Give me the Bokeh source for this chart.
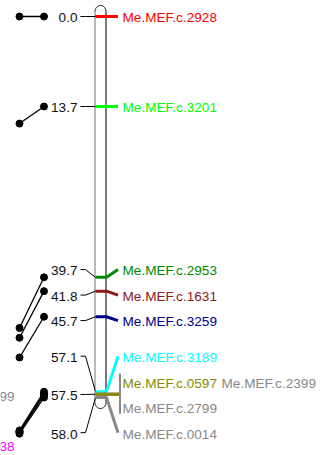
import numpy as np
from bokeh.plotting import figure
from bokeh.models import Range1d
from bokeh.core.properties import value
from bokeh.embed import file_html
from bokeh.resources import INLINE

# ---------------- data ----------------
marker_names = ["Me.MEF.c.2928", "Me.MEF.c.3201", "Me.MEF.c.2953", "Me.MEF.c.1631",
                "Me.MEF.c.3259", "Me.MEF.c.3189", "Me.MEF.c.0597", "Me.MEF.c.2399",
                "Me.MEF.c.2799", "Me.MEF.c.0014"]
marker_pos = [0.0, 13.7, 39.7, 41.8, 45.7, 57.1, 57.5, 57.5, 57.5, 58.0]
marker_colors = ["#FF0000", "#00FF00", "#008B00", "#8B1A1A", "#00008B",
                 "#00FFFF", "#8B8B00", "#888888", "#888888", "#888888"]
# positions of the same markers on the neighbouring (cut-off) map on the left
other_pos = [0.0, 16.3, 47.4, 48.9, 51.9, 63.0, 63.2, 63.2, 63.3, 63.5]
other_label_text = ["99", "38"]
other_label_pos = [57.7, 65.2]
other_label_colors = ["#888888", "#FF00FF"]

# ---------------- layout ----------------
W, H = 320, 455
PX_PER_CM = 6.57
TOP_PX = 16.0
FONT = value("Liberation Sans")
FS = "13.6px"
SPACING = 25.5 / PX_PER_CM
MAX_PER_ROW = 2
BAR_L, BAR_R = 94.5, 105.5
BAR_PAD = 0.76
CAP_RY = 6.0 / PX_PER_CM
COL_W = 99
TXT_DY = 1.4 / PX_PER_CM

y_top = -TOP_PX / PX_PER_CM
y_bot = (H - TOP_PX) / PX_PER_CM

p = figure(width=W, height=H, x_range=Range1d(0, W), y_range=Range1d(y_bot, y_top),
           output_backend="svg", toolbar_location=None, min_border=0,
           x_axis_location=None, y_axis_location=None)
p.grid.visible = False
p.outline_line_color = None
p.background_fill_color = "white"
p.styles = {"position": "absolute", "left": "0px", "top": "0px"}

# ---- rows of labels on the right ----
rows = []
i, n = 0, len(marker_pos)
while i < n:
    j = i
    while j < n and marker_pos[j] == marker_pos[i]:
        j += 1
    idx = list(range(i, j))
    for k in range(0, len(idx), MAX_PER_ROW):
        rows.append(idx[k:k + MAX_PER_ROW])
    i = j
row_pos = [marker_pos[r[0]] for r in rows]


def spread(pos, s):
    clusters = [[q] for q in range(len(pos))]

    def start(c):
        return sum(pos[q] for q in c) / len(c) - s * (len(c) - 1) / 2

    merged = True
    while merged:
        merged = False
        for a in range(len(clusters) - 1):
            end_a = start(clusters[a]) + s * (len(clusters[a]) - 1)
            if start(clusters[a + 1]) - end_a < s:
                clusters[a] = clusters[a] + clusters[a + 1]
                del clusters[a + 1]
                merged = True
                break
    lab = [0.0] * len(pos)
    for c in clusters:
        st = start(c)
        for k, q in enumerate(c):
            lab[q] = st + s * k
    return lab, clusters


row_lab, clusters = spread(row_pos, SPACING)

# left labels: one per distinct position, spread over the cluster's span
left_pos, left_lab = [], []
for c in clusters:
    distinct = sorted(set(row_pos[q] for q in c))
    first, last = row_lab[c[0]], row_lab[c[-1]]
    m = len(distinct)
    for k, d in enumerate(distinct):
        left_pos.append(d)
        if m == 1:
            left_lab.append((first + last) / 2 if len(c) > 1 else row_lab[c[0]])
        else:
            left_lab.append(first + (last - first) * k / (m - 1))

# ---- chromosome bar ----
cx = (BAR_L + BAR_R) / 2
rx = (BAR_R - BAR_L) / 2
top = min(marker_pos) - BAR_PAD
bot = max(marker_pos) + BAR_PAD
t = np.linspace(np.pi, 0, 40)
top_x = cx + rx * np.cos(t)
top_y = top - CAP_RY * np.sin(t)
t2 = np.linspace(0, np.pi, 40)
bot_x = cx + rx * np.cos(t2)
bot_y = bot + CAP_RY * np.sin(t2)
p.patch(list(top_x) + list(bot_x), list(top_y) + list(bot_y),
        fill_color="white", line_color=None)
p.line(top_x, top_y, line_color="black", line_width=1)
p.line(bot_x, bot_y, line_color="black", line_width=1)
p.segment([BAR_L], [top], [BAR_L], [bot], line_color="#8a8a8a", line_width=1.2)
p.segment([BAR_R], [top], [BAR_R], [bot], line_color="#222222", line_width=1.2)

# ---- comparison lines to the neighbouring map ----
p.multi_line([[43.5, 19.0] for _ in marker_pos],
             [[a, b] for a, b in zip(marker_pos, other_pos)],
             line_color="black", line_width=1.3)
p.scatter([43.5] * len(marker_pos), marker_pos, size=7, color="black")
p.scatter([19.0] * len(other_pos), other_pos, size=7, color="black")
p.text([14] * len(other_label_text), [v + TXT_DY for v in other_label_pos],
       text=other_label_text,
       text_color=other_label_colors, text_align="right", text_baseline="middle",
       text_font=FONT, text_font_size=FS)

# ---- left connectors and position labels ----
p.multi_line([[80, 85, 95] for _ in left_pos],
             [[l, l, q] for l, q in zip(left_lab, left_pos)],
             line_color="black", line_width=1)
p.text([77] * len(left_pos), [v + TXT_DY for v in left_lab],
       text=["%.1f" % v for v in left_pos],
       text_color="#111111", text_align="right", text_baseline="middle",
       text_font=FONT, text_font_size=FS)

# ---- right connectors ----
xs, ys, cs = [], [], []
bracket_x, bracket_y0, bracket_y1 = [], [], []
pos_rows = {}
for r_i, r in enumerate(rows):
    pos_rows.setdefault(row_pos[r_i], []).append(r_i)
for pos_v, r_list in pos_rows.items():
    if len(r_list) == 1:
        r_i = r_list[0]
        mk = rows[r_i][0]
        xs.append([95, 106, 117.5])
        ys.append([pos_v, pos_v, row_lab[r_i]])
        cs.append(marker_colors[mk])
    else:
        mks = [m for r_i in r_list for m in rows[r_i]]
        for mk in reversed(mks):
            xs.append([95, 118.5])
            ys.append([pos_v, pos_v])
            cs.append(marker_colors[mk])
        bracket_x.append(119.5)
        bracket_y0.append(row_lab[r_list[0]] - 1.25)
        bracket_y1.append(row_lab[r_list[-1]] + 1.0)
p.multi_line(xs, ys, line_color=cs, line_width=3)
p.segment(bracket_x, bracket_y0, bracket_x, bracket_y1, line_color="#888888", line_width=2)

tx, ty, tt, tc = [], [], [], []
for r_i, r in enumerate(rows):
    for k, mk in enumerate(r):
        tx.append(122 + COL_W * k)
        ty.append(row_lab[r_i] + TXT_DY)
        tt.append(marker_names[mk])
        tc.append(marker_colors[mk])
p.text(tx, ty, text=tt, text_color=tc, text_align="left", text_baseline="middle",
       text_font=FONT, text_font_size=FS)

open("out.html", "w").write(file_html(p, INLINE))
